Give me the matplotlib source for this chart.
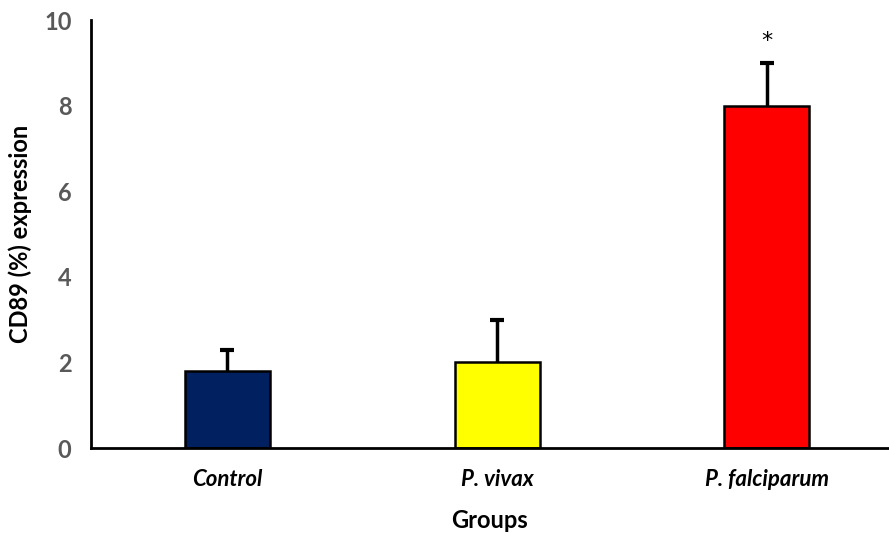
import matplotlib.pyplot as plt
import numpy as np

plt.rcParams['font.family'] = ['Lato', 'DejaVu Sans']

groups = ['Control', 'P. vivax', 'P. falciparum']
values = [1.8, 2.0, 8.0]
errors = [0.5, 1.0, 1.0]
colors = ['#002060', '#FFFF00', '#FF0000']

fig = plt.figure(figsize=(8.89, 5.33), dpi=100)
ax = fig.add_axes([91 / 889, 85 / 533, 798 / 889, 428 / 533])

x = np.arange(len(groups))
ax.bar(x, values, width=0.315, color=colors, edgecolor='black', linewidth=1.8, zorder=2)
eb = ax.errorbar(x, values, yerr=[np.zeros(len(errors)), errors], fmt='none',
                 ecolor='black', elinewidth=2.5, capsize=5, capthick=3, zorder=1)
# upper whiskers only
eb[1][0].set_visible(False)

# significance mark over the falciparum bar
ax.text(x[2], values[2] + errors[2] + 0.5, '*', ha='center', va='center',
        fontsize=16, color='black', family='DejaVu Sans')

ax.set_xlim(-0.504, 2.452)
ax.set_ylim(0, 10)
ax.set_yticks([0, 2, 4, 6, 8, 10])
ax.set_xticks(x)
ax.set_xticklabels(groups, fontsize=16, fontweight='bold', fontstyle='italic')
ax.tick_params(axis='x', length=0, pad=15)
ax.tick_params(axis='y', length=0, pad=14, labelcolor='#595959', labelsize=17)
for lbl in ax.get_yticklabels():
    lbl.set_fontweight('bold')

ax.spines['top'].set_visible(False)
ax.spines['right'].set_visible(False)
ax.spines['left'].set_linewidth(2)
ax.spines['bottom'].set_linewidth(2)

ax.set_ylabel('CD89 (%) expression', fontsize=17, fontweight='bold', labelpad=9)
ax.set_xlabel('Groups', fontsize=17, fontweight='bold', labelpad=14)

fig.savefig('out.png', dpi=100)
